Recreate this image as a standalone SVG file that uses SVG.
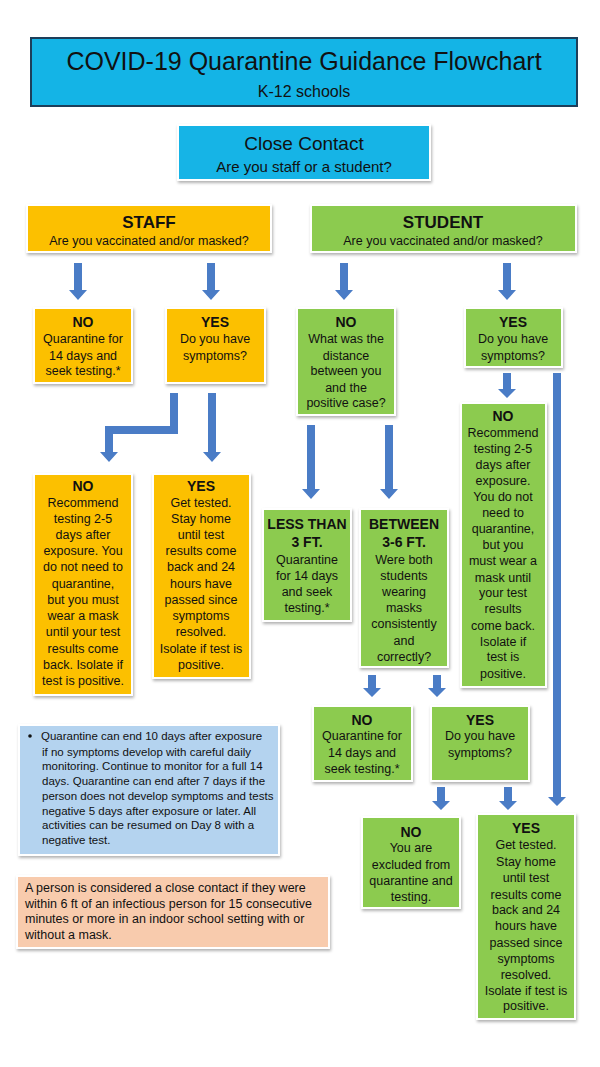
<svg xmlns="http://www.w3.org/2000/svg" width="600" height="1067" viewBox="0 0 600 1067">
<defs>
<filter id="sh" x="-10%" y="-10%" width="120%" height="125%"><feDropShadow dx="1" dy="2" stdDeviation="1.5" flood-color="#000" flood-opacity="0.3"/></filter>
</defs>
<style>
text{font-family:"Liberation Sans",Arial,sans-serif;fill:#111;text-anchor:middle;font-size:12.5px}
.b{font-weight:bold;font-size:14px}
.cy{fill:#14b4e6;stroke:#fff;stroke-width:2;filter:url(#sh)}
.or{fill:#fcc000;stroke:#fff;stroke-width:2;filter:url(#sh)}
.gr{fill:#8ccb50;stroke:#fff;stroke-width:2;filter:url(#sh)}
.ar{fill:#4a7cc6}
.l{text-anchor:start}
</style>
<rect width="600" height="1067" fill="#fff"/>
<g id="title"><rect x="31" y="38" width="546" height="68" fill="#14b4e6" stroke="#1d3e5a" stroke-width="2"/>
<text x="304" y="70" style="font-size:25px">COVID-19 Quarantine Guidance Flowchart</text>
<text x="304" y="97" style="font-size:16px">K-12 schools</text></g>
<g id="close"><rect class="cy" x="178" y="125" width="252" height="55"/>
<text x="304" y="150" style="font-size:19px">Close Contact</text>
<text x="304" y="172" style="font-size:15px">Are you staff or a student?</text></g>
<g id="staff"><rect class="or" x="27" y="205" width="244" height="47"/>
<text x="149" y="228" class="b" style="font-size:17px">STAFF</text>
<text x="149" y="245">Are you vaccinated and/or masked?</text></g>
<g id="student"><rect class="gr" x="311" y="205" width="265" height="47"/>
<text x="443" y="228" class="b" style="font-size:17px">STUDENT</text>
<text x="443" y="245">Are you vaccinated and/or masked?</text></g>
<g id="connectors">
<polygon class="ar" points="74,263 82,263 82,290 87,290 78,300 69,290 74,290"/>
<polygon class="ar" points="207,263 215,263 215,290 220,290 211,300 202,290 207,290"/>
<polygon class="ar" points="340,263 348,263 348,290 353,290 344,300 335,290 340,290"/>
<polygon class="ar" points="503,263 511,263 511,290 516,290 507,300 498,290 503,290"/>
<polygon class="ar" points="170,393 178,393 178,434 113,434 113,452 118,452 109,462 100,452 105,452 105,426 170,426"/>
<polygon class="ar" points="208,393 216,393 216,452 221,452 212,462 203,452 208,452"/>
<polygon class="ar" points="307,425 315,425 315,489 320,489 311,499 302,489 307,489"/>
<polygon class="ar" points="385,425 393,425 393,489 398,489 389,499 380,489 385,489"/>
<polygon class="ar" points="503,373 511,373 511,389 516,389 507,398 498,389 503,389"/>
<polygon class="ar" points="553,373 561,373 561,797 566,797 557,806 548,797 553,797"/>
<polygon class="ar" points="368,675 376,675 376,688 381,688 372,697 363,688 368,688"/>
<polygon class="ar" points="433,675 441,675 441,688 446,688 437,697 428,688 433,688"/>
<polygon class="ar" points="437,787 445,787 445,801 450,801 441,810 432,801 437,801"/>
<polygon class="ar" points="504,787 512,787 512,801 517,801 508,810 499,801 504,801"/>
</g>
<g id="staff-no"><rect class="or" x="34" y="308" width="98" height="75"/>
<text x="83" y="327" class="b">NO</text><text x="83" y="343">Quarantine for</text><text x="83" y="360">14 days and</text><text x="83" y="375">seek testing.*</text></g>
<g id="staff-yes"><rect class="or" x="166" y="308" width="99" height="75"/>
<text x="215" y="327" class="b">YES</text><text x="215" y="343">Do you have</text><text x="215" y="360">symptoms?</text></g>
<g id="student-no"><rect class="gr" x="297" y="308" width="98" height="107"/>
<text x="346" y="327" class="b">NO</text><text x="346" y="343">What was the</text><text x="346" y="360">distance</text><text x="346" y="375">between you</text><text x="346" y="392">and the</text><text x="346" y="407">positive case?</text></g>
<g id="student-yes"><rect class="gr" x="465" y="308" width="97" height="59"/>
<text x="513" y="327" class="b">YES</text><text x="513" y="343">Do you have</text><text x="513" y="360">symptoms?</text></g>
<g id="student-yes-no"><rect class="gr" x="461" y="403" width="85" height="284"/>
<text x="503" y="421" class="b">NO</text><text x="503" y="437">Recommend</text><text x="503" y="453">testing 2-5</text><text x="503" y="469">days after</text><text x="503" y="485">exposure.</text><text x="503" y="501">You do not</text><text x="503" y="517">need to</text><text x="503" y="533">quarantine,</text><text x="503" y="549">but you</text><text x="503" y="565">must wear a</text><text x="503" y="582">mask until</text><text x="503" y="597">your test</text><text x="503" y="613">results</text><text x="503" y="630">come back.</text><text x="503" y="646">Isolate if</text><text x="503" y="661">test is</text><text x="503" y="678">positive.</text></g>
<g id="staff-yes-no"><rect class="or" x="34" y="474" width="98" height="221"/>
<text x="83" y="491" class="b">NO</text><text x="83" y="507">Recommend</text><text x="83" y="523">testing 2-5</text><text x="83" y="539">days after</text><text x="83" y="555">exposure. You</text><text x="83" y="571">do not need to</text><text x="83" y="588">quarantine,</text><text x="83" y="604">but you must</text><text x="83" y="620">wear a mask</text><text x="83" y="636">until your test</text><text x="83" y="653">results come</text><text x="83" y="669">back. Isolate if</text><text x="83" y="685">test is positive.</text></g>
<g id="staff-yes-yes"><rect class="or" x="153" y="474" width="97" height="204"/>
<text x="201" y="491" class="b">YES</text><text x="201" y="507">Get tested.</text><text x="201" y="523">Stay home</text><text x="201" y="539">until test</text><text x="201" y="555">results come</text><text x="201" y="571">back and 24</text><text x="201" y="588">hours have</text><text x="201" y="604">passed since</text><text x="201" y="620">symptoms</text><text x="201" y="636">resolved.</text><text x="201" y="653">Isolate if test is</text><text x="201" y="669">positive.</text></g>
<g id="less"><rect class="gr" x="263" y="509" width="88" height="112"/>
<text x="307" y="529" class="b">LESS THAN</text><text x="307" y="547" class="b">3 FT.</text><text x="307" y="564">Quarantine</text><text x="307" y="580">for 14 days</text><text x="307" y="596">and seek</text><text x="307" y="612">testing.*</text></g>
<g id="between"><rect class="gr" x="360" y="509" width="88" height="158"/>
<text x="404" y="529" class="b">BETWEEN</text><text x="404" y="547" class="b">3-6 FT.</text><text x="404" y="564">Were both</text><text x="404" y="580">students</text><text x="404" y="596">wearing</text><text x="404" y="612">masks</text><text x="404" y="628">consistently</text><text x="404" y="645">and</text><text x="404" y="661">correctly?</text></g>
<g id="between-no"><rect class="gr" x="313" y="706" width="99" height="75"/>
<text x="362" y="725" class="b">NO</text><text x="362" y="740">Quarantine for</text><text x="362" y="757">14 days and</text><text x="362" y="773">seek testing.*</text></g>
<g id="between-yes"><rect class="gr" x="431" y="706" width="98" height="75"/>
<text x="480" y="725" class="b">YES</text><text x="480" y="740">Do you have</text><text x="480" y="757">symptoms?</text></g>
<g id="excluded"><rect class="gr" x="362" y="817" width="98" height="91"/>
<text x="411" y="837" class="b">NO</text><text x="411" y="852">You are</text><text x="411" y="869">excluded from</text><text x="411" y="885">quarantine and</text><text x="411" y="901">testing.</text></g>
<g id="final-yes"><rect class="gr" x="477" y="814" width="98" height="205"/>
<text x="526" y="833" class="b">YES</text><text x="526" y="849">Get tested.</text><text x="526" y="866">Stay home</text><text x="526" y="882">until test</text><text x="526" y="899">results come</text><text x="526" y="914">back and 24</text><text x="526" y="930">hours have</text><text x="526" y="947">passed since</text><text x="526" y="963">symptoms</text><text x="526" y="979">resolved.</text><text x="526" y="995">Isolate if test is</text><text x="526" y="1010">positive.</text></g>
<g id="note" style="font-size:11.5px"><rect x="19" y="725" width="260" height="130" fill="#b4d3ef" stroke="#fff" stroke-width="2" filter="url(#sh)"/>
<circle cx="30" cy="736" r="1.8" fill="#111"/>
<text class="l" x="41" y="740" style="font-size:11.5px">Quarantine can end 10 days after exposure</text>
<text class="l" x="42" y="756" style="font-size:11.5px">if no symptoms develop with careful daily</text>
<text class="l" x="42" y="770" style="font-size:11.5px">monitoring. Continue to monitor for a full 14</text>
<text class="l" x="42" y="785" style="font-size:11.5px">days. Quarantine can end after 7 days if the</text>
<text class="l" x="42" y="800" style="font-size:11.5px">person does not develop symptoms and tests</text>
<text class="l" x="42" y="815" style="font-size:11.5px">negative 5 days after exposure or later. All</text>
<text class="l" x="42" y="829" style="font-size:11.5px">activities can be resumed on Day 8 with a</text>
<text class="l" x="42" y="844" style="font-size:11.5px">negative test.</text></g>
<g id="definition"><rect x="17" y="876" width="312" height="72" fill="#f8cbad" stroke="#fff" stroke-width="2" filter="url(#sh)"/>
<text class="l" x="25" y="892">A person is considered a close contact if they were</text>
<text class="l" x="25" y="908">within 6 ft of an infectious person for 15 consecutive</text>
<text class="l" x="25" y="923">minutes or more in an indoor school setting with or</text>
<text class="l" x="25" y="939">without a mask.</text></g>
</svg>
